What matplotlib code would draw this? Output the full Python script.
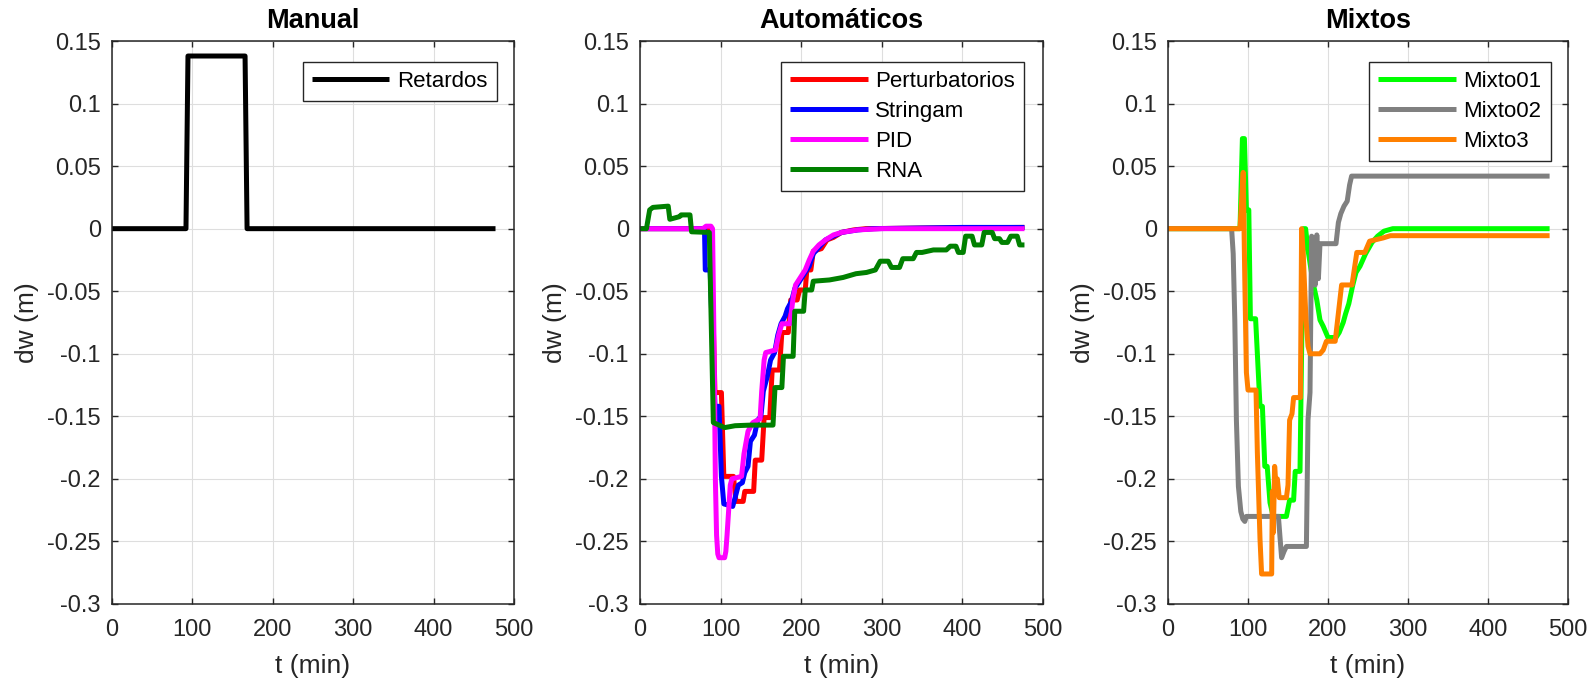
import matplotlib
matplotlib.use("Agg")
import matplotlib.pyplot as plt
import numpy as np

plt.rcParams['font.family'] = ['Liberation Sans', 'DejaVu Sans']
plt.rcParams['axes.unicode_minus'] = False

# ---------------- data ----------------
titles = ["Manual", "Automáticos", "Mixtos"]
xlabel = "t (min)"
ylabel = "dw (m)"
xticks = [0, 100, 200, 300, 400, 500]
xtick_labels = ["0", "100", "200", "300", "400", "500"]
yticks = [-0.3, -0.25, -0.2, -0.15, -0.1, -0.05, 0, 0.05, 0.1, 0.15]
ytick_labels = ["-0.3", "-0.25", "-0.2", "-0.15", "-0.1", "-0.05", "0", "0.05", "0.1", "0.15"]

# Manual
retardos_t = [0, 92, 94.5, 165.5, 168, 477]
retardos_v = [0, 0, 0.138, 0.138, 0, 0]

# Automaticos
pert_t = [0, 88, 93, 101, 104, 116, 119, 128, 130, 141, 143, 151, 154, 161, 164, 173, 176, 184, 187,
          195, 198, 205, 207, 212, 215, 225, 232, 240, 250, 265, 280, 350, 477]
pert_v = [0, 0, -0.131, -0.131, -0.198, -0.198, -0.218, -0.218, -0.210, -0.210, -0.185, -0.185, -0.151,
          -0.151, -0.113, -0.113, -0.083, -0.083, -0.057, -0.057, -0.049, -0.049, -0.033, -0.033, -0.018,
          -0.016, -0.009, -0.007, -0.003, -0.001, 0.0, 0.0005, 0.001]

string_t = [0, 80, 81, 87, 93, 98, 101, 104, 115, 118, 122, 127, 130, 134, 137, 142, 146, 150, 153, 158,
            162, 167, 171, 175, 180, 183, 188, 192, 198, 205, 210, 215, 222, 230, 240, 250, 270, 290, 400, 477]
string_v = [0, 0, -0.033, -0.033, -0.142, -0.142, -0.198, -0.220, -0.222, -0.215, -0.205, -0.203, -0.195,
            -0.190, -0.170, -0.165, -0.153, -0.150, -0.130, -0.118, -0.105, -0.099, -0.085, -0.076, -0.070,
            -0.064, -0.058, -0.048, -0.042, -0.035, -0.030, -0.020, -0.015, -0.009, -0.006, -0.003, -0.001,
            0.0, 0.001, 0.001]

pid_t = [0, 78, 82, 88, 90, 92, 93.5, 95, 96.5, 98, 105, 106.5, 108, 110, 112, 114, 126, 129, 134, 140,
         149, 151, 154, 156, 168, 172, 176, 186, 190, 193, 197, 205, 210, 215, 222, 230, 240, 250, 270,
         300, 477]
pid_v = [0, 0, 0.002, 0.002, 0.0, -0.1, -0.2, -0.245, -0.26, -0.263, -0.263, -0.258, -0.245, -0.225,
         -0.205, -0.200, -0.198, -0.180, -0.162, -0.155, -0.152, -0.130, -0.105, -0.099, -0.097, -0.085,
         -0.076, -0.076, -0.055, -0.045, -0.041, -0.033, -0.025, -0.018, -0.013, -0.009, -0.005, -0.003,
         -0.001, 0.0, 0.0]

rna_t = [0, 8, 12, 16, 35, 37, 49, 51, 62, 64, 86, 91, 105, 118, 138, 165, 167.5, 176, 178, 190, 192,
         203, 205, 213, 215, 235, 252, 268, 281, 292, 298, 308, 312, 322, 326, 339, 343, 350, 364, 380,
         385, 392, 395, 401, 404, 412, 415, 424, 427, 437, 440, 446, 449, 456, 460, 468, 471, 477]
rna_v = [0, 0, 0.015, 0.017, 0.018, 0.0075, 0.0096, 0.011, 0.011, -0.0025, -0.003, -0.155, -0.159,
         -0.1575, -0.157, -0.157, -0.127, -0.127, -0.102, -0.102, -0.066, -0.066, -0.049, -0.049, -0.042,
         -0.041, -0.039, -0.036, -0.035, -0.033, -0.026, -0.026, -0.031, -0.031, -0.024, -0.024, -0.019,
         -0.019, -0.017, -0.017, -0.014, -0.014, -0.019, -0.019, -0.006, -0.006, -0.013, -0.013, -0.003,
         -0.003, -0.008, -0.008, -0.011, -0.011, -0.006, -0.006, -0.013, -0.013]

# Mixtos
m1_t = [0, 90, 93, 95.5, 98, 101, 103, 109.5, 115, 118, 121, 124, 127.5, 131.5, 148, 152, 157, 159, 165,
        169, 172, 175, 181.5, 186, 190, 194, 200, 210, 214, 219, 222, 226, 231, 235, 240, 247, 255, 262,
        270, 281, 477]
m1_v = [0, 0, 0.072, 0.072, 0.015, 0.015, -0.072, -0.072, -0.142, -0.142, -0.19, -0.19, -0.219, -0.23,
        -0.23, -0.217, -0.217, -0.194, -0.194, 0.0, 0.0, -0.017, -0.044, -0.057, -0.073, -0.078, -0.087,
        -0.087, -0.083, -0.075, -0.068, -0.06, -0.045, -0.035, -0.03, -0.02, -0.011, -0.006, -0.002, 0.0,
        0.0]

m2_t = [0, 79.5, 81.5, 83.5, 85.5, 88, 91, 93.5, 96, 98, 138, 142, 145, 148, 173, 175, 177.5, 179.5,
        182, 184, 186, 188, 190, 210, 213, 216, 220, 224, 227, 229.5, 477]
m2_v = [0, 0, -0.02, -0.073, -0.153, -0.206, -0.226, -0.232, -0.234, -0.23, -0.23, -0.263, -0.258,
        -0.254, -0.254, -0.153, -0.131, -0.006, -0.008, -0.045, -0.005, -0.04, -0.012, -0.012, 0.005,
        0.012, 0.018, 0.022, 0.035, 0.042, 0.042]

m3_t = [0, 90, 94, 96, 98, 100, 110, 111.7, 115, 117, 129.6, 130.4, 131.7, 133.3, 135, 136.7, 139, 148,
        150, 152, 155, 157, 165.5, 167, 169, 172.5, 175, 177.5, 190, 194, 198, 209, 212, 217, 230, 236,
        246, 252, 269, 278, 477]
m3_v = [0, 0, 0.045, -0.041, -0.115, -0.129, -0.129, -0.179, -0.248, -0.276, -0.276, -0.21, -0.243,
        -0.19, -0.205, -0.2, -0.215, -0.215, -0.205, -0.153, -0.148, -0.135, -0.135, 0.0, -0.02, -0.073,
        -0.094, -0.1, -0.1, -0.097, -0.09, -0.09, -0.073, -0.045, -0.045, -0.019, -0.019, -0.01, -0.0074,
        -0.0056, -0.0056]

panels = [
    [("Retardos", retardos_t, retardos_v, "#000000")],
    [("Perturbatorios", pert_t, pert_v, "#FF0000"),
     ("Stringam", string_t, string_v, "#0000FF"),
     ("PID", pid_t, pid_v, "#FF00FF"),
     ("RNA", rna_t, rna_v, "#008000")],
    [("Mixto01", m1_t, m1_v, "#00FF00"),
     ("Mixto02", m2_t, m2_v, "#808080"),
     ("Mixto3", m3_t, m3_v, "#FF8000")],
]

# ---------------- layout ----------------
W, H = 1591, 681
fig = plt.figure(figsize=(W / 100, H / 100), dpi=100)
lefts = [112, 640, 1168]
widths = [402, 403, 400]
top_px, bot_px = 41, 604
leg_right = [496.7, 1024.3, 1550.7]
tc = "#262626"

for i, series in enumerate(panels):
    ax = fig.add_axes([lefts[i] / W, 1 - bot_px / H, widths[i] / W, (bot_px - top_px) / H])
    for name, t, v, c in series:
        ax.plot(t, v, color=c, lw=3.6, label=name, solid_capstyle='butt', solid_joinstyle='round')
    ax.set_xlim(0, 500)
    ax.set_ylim(-0.3, 0.15)
    ax.set_xticks(xticks)
    ax.set_xticklabels(xtick_labels)
    ax.set_yticks(yticks)
    ax.set_yticklabels(ytick_labels)
    ax.tick_params(direction='in', length=4.3, width=1.0, colors=tc, labelsize=17,
                   top=True, right=True)
    ax.tick_params(axis='x', pad=11)
    ax.tick_params(axis='y', pad=8)
    for sp in ax.spines.values():
        sp.set_color(tc)
        sp.set_linewidth(1.1)
    ax.grid(True, color='#dedede', lw=0.8)
    ax.set_axisbelow(True)
    ax.set_xlabel(xlabel, fontsize=19, color=tc, labelpad=9)
    ax.set_ylabel(ylabel, fontsize=19, color=tc, labelpad=6)
    ax.set_title(titles[i], fontsize=19.5, fontweight='bold', color='black', pad=9)
    rx = (leg_right[i] - lefts[i]) / widths[i]
    ty = 1 - (61.7 - top_px) / (bot_px - top_px)
    leg = ax.legend(loc='upper right', bbox_to_anchor=(rx, ty), borderaxespad=0,
                    fontsize=16, fancybox=False, framealpha=1, edgecolor='#262626',
                    handlelength=3.5, handletextpad=0.35, borderpad=0.41, labelspacing=0.41)
    leg.get_frame().set_linewidth(1.0)

fig.savefig("out.png", dpi=100)
